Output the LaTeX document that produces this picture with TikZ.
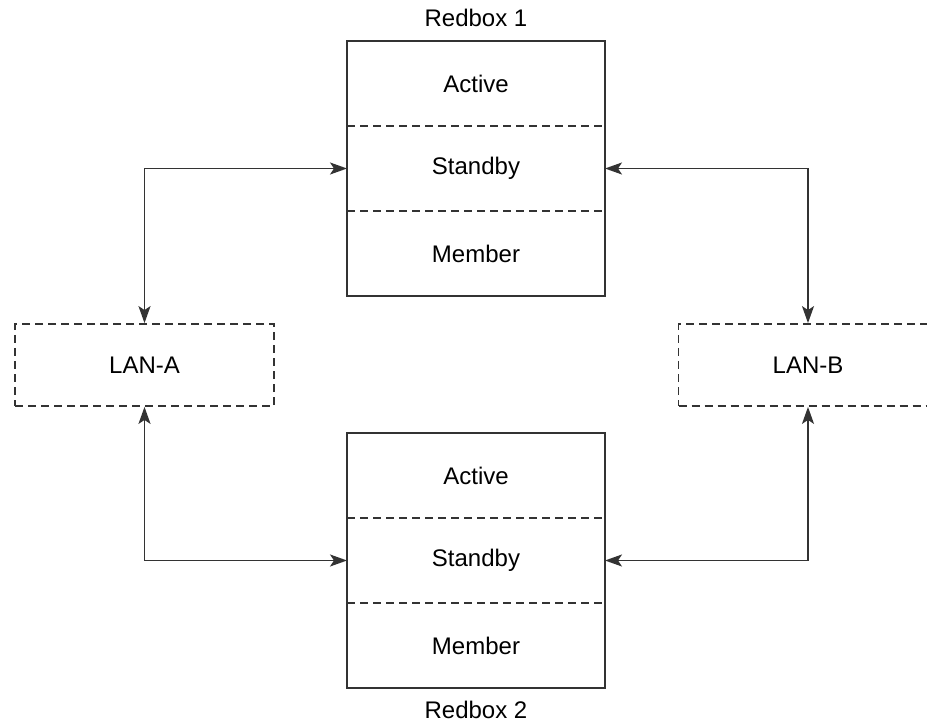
\documentclass[tikz,border=0pt]{standalone}
\usepackage{fontspec}
\setmainfont{Liberation Sans}
\usetikzlibrary{positioning,arrows.meta}

\begin{document}
\begin{tikzpicture}[x=1pt,y=-1pt,
    font=\fontsize{24}{28}\selectfont,
    part/.style={minimum width=258pt,minimum height=85pt,inner sep=0pt,outer sep=0pt},
    lan/.style={draw=black!80,line width=1.8pt,dash pattern=on 8pt off 5pt,
        minimum width=259pt,minimum height=82pt,inner sep=0pt},
    box/.style={draw=black!80,line width=1.8pt},
    sep/.style={draw=black!80,line width=1.8pt,dash pattern=on 8pt off 5pt},
    link/.style={draw=black!80,line width=1.8pt,
        {Stealth[length=17pt,width=12pt,inset=4pt]}-{Stealth[length=17pt,width=12pt,inset=4pt]}}]
    \clip (0,0) rectangle (927,722);

    % the two redboxes
    \foreach \n/\y in {1/41, 2/433} {
        \node[part, anchor=north] (r\n a) at (476,\y) {Active};
        \node[part, below=0pt of r\n a] (r\n s) {Standby};
        \node[part, below=0pt of r\n s] (r\n m) {Member};
        \draw[box] (r\n a.north west) rectangle (r\n m.south east);
        \draw[sep] (r\n a.south west) -- (r\n a.south east);
        \draw[sep] (r\n s.south west) -- (r\n s.south east);
    }
    \node (t1) at (476,18) {Redbox 1};
    \node (t2) at (476,710) {Redbox 2};

    % the two LANs
    \node[lan] (lana) at (144.5,365) {LAN-A};
    \node[lan] (lanb) at (808,365) {LAN-B};

    \draw[link] (lana.north) |- (r1s.west);
    \draw[link] (lanb.north) |- (r1s.east);
    \draw[link] (lana.south) |- (r2s.west);
    \draw[link] (lanb.south) |- (r2s.east);
\end{tikzpicture}
\end{document}
